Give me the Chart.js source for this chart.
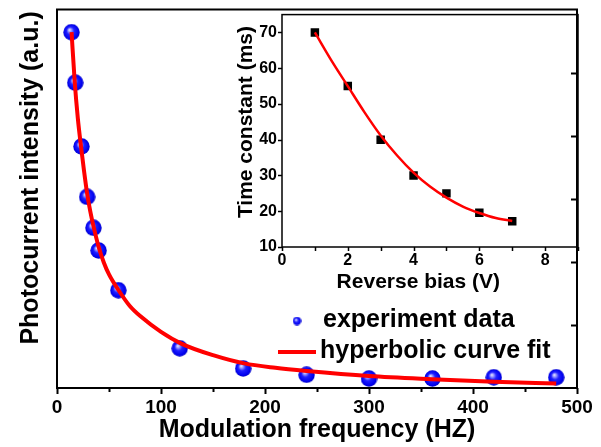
<!DOCTYPE html>
<html>
<head>
<meta charset="utf-8">
<script src="https://cdn.jsdelivr.net/npm/chart.js@4"></script>
<style>
  body { margin: 0; background: #fff; }
  #wrap { position: relative; width: 601px; height: 447px; }
  #mainChart { position: absolute; left: 0; top: 0; }
  #insetChart { position: absolute; left: 222px; top: 0; }
</style>
</head>
<body>
<div id="wrap">
  <canvas id="mainChart" width="601" height="447"></canvas>
  <canvas id="insetChart" width="370" height="300"></canvas>
</div>
<script>
// main plot: photocurrent vs modulation frequency
const freqHz = [14, 17.5, 23.5, 29, 35, 40, 59, 118, 179, 240, 300, 361, 420, 480];
const photocurrent = [5.64, 4.84, 3.83, 3.03, 2.54, 2.18, 1.55, 0.63, 0.31, 0.21, 0.15, 0.15, 0.17, 0.17];
const fitFreqHz = [14, 17, 20, 23, 26, 29, 32, 35, 40, 45, 50, 60, 70, 80, 100, 120, 150, 180, 210, 240, 300, 360, 420, 480];
const fitPhotocurrent = [5.64, 4.86, 4.28, 3.84, 3.44, 3.08, 2.80, 2.57, 2.24, 1.99, 1.80, 1.53, 1.30, 1.14, 0.89, 0.70, 0.52, 0.39, 0.32, 0.27, 0.19, 0.14, 0.10, 0.07];
const freqTicks = [0, 100, 200, 300, 400, 500];
const intensityTicks = [1, 2, 3, 4, 5];

// inset: time constant vs reverse bias
const biasV = [1, 2, 3, 4, 5, 6, 7];
const timeConstMs = [70, 55, 40, 30, 25, 19.6, 17.2];
const fitBiasV = [1, 1.5, 2, 2.5, 3, 3.5, 4, 4.5, 5, 5.5, 6, 6.5, 7];
const fitTimeConstMs = [70, 62.2, 55, 47.8, 41.2, 35.6, 30.8, 26.9, 23.8, 21.3, 19.5, 18.1, 17.3];
const biasTicks = [0, 2, 4, 6, 8];
const timeTicks = [10, 20, 30, 40, 50, 60, 70];

const FONT = 'Arial, "Liberation Sans", sans-serif';

function makeSphere(d) {
    const c = document.createElement('canvas');
    c.width = c.height = d;
    const g = c.getContext('2d');
    const r = d / 2;
    const grad = g.createRadialGradient(r - r * 0.25, r - r * 0.3, 0, r, r, r);
    grad.addColorStop(0, '#f4f4ff');
    grad.addColorStop(0.2, '#9a9aff');
    grad.addColorStop(0.45, '#2020ff');
    grad.addColorStop(0.85, '#0000ee');
    grad.addColorStop(1, '#0000b8');
    g.fillStyle = grad;
    g.beginPath();
    g.arc(r, r, r - 0.3, 0, Math.PI * 2);
    g.fill();
    return c;
}
const sphere = makeSphere(17);
const smallSphere = makeSphere(9);

// box around the plot area plus tick marks taken from the scales
const framePlugin = {
    id: 'frame',
    afterDraw(chart, args, opts) {
        const { ctx, chartArea: a, scales } = chart;
        ctx.save();
        ctx.strokeStyle = '#000';
        ctx.lineWidth = opts.lineWidth;
        ctx.strokeRect(a.left, a.top, a.right - a.left, a.bottom - a.top);
        (opts.ticks || []).forEach(t => {
            const s = scales[t.scale];
            t.values.forEach(v => {
                const p = Math.round(s.getPixelForValue(v)) + 0.5;
                ctx.beginPath();
                if (t.side === 'bottom') { ctx.moveTo(p, a.bottom); ctx.lineTo(p, a.bottom + t.len); }
                if (t.side === 'left') { ctx.moveTo(a.left, p); ctx.lineTo(a.left - t.len, p); }
                if (t.side === 'right') { ctx.moveTo(a.right, p); ctx.lineTo(a.right - t.len, p); }
                ctx.stroke();
            });
        });
        ctx.restore();
    }
};

const legendPlugin = {
    id: 'sideLegend',
    afterDraw(chart) {
        const ctx = chart.ctx;
        ctx.save();
        ctx.drawImage(smallSphere, 297 - 4.5, 321 - 4.5);
        ctx.strokeStyle = '#ff0000';
        ctx.lineWidth = 4;
        ctx.beginPath();
        ctx.moveTo(278, 352);
        ctx.lineTo(316, 352);
        ctx.stroke();
        ctx.fillStyle = '#000';
        ctx.font = 'bold 25px ' + FONT;
        ctx.textBaseline = 'middle';
        ctx.fillText('experiment data', 323, 320);
        ctx.fillText('hyperbolic curve fit', 320, 351);
        ctx.restore();
    }
};

const minorFreq = [];
for (let i = 0; i < freqTicks.length; i++) {
    minorFreq.push(freqTicks[i]);
    if (i < freqTicks.length - 1) minorFreq.push((freqTicks[i] + freqTicks[i + 1]) / 2);
}

new Chart(document.getElementById('mainChart'), {
    type: 'scatter',
    data: {
        datasets: [{
            label: 'hyperbolic curve fit',
            data: fitFreqHz.map((x, i) => ({ x: x, y: fitPhotocurrent[i] })),
            showLine: true,
            borderColor: '#ff0000',
            borderWidth: 4,
            pointRadius: 0,
            cubicInterpolationMode: 'monotone'
        }, {
            label: 'experiment data',
            data: freqHz.map((x, i) => ({ x: x, y: photocurrent[i] })),
            pointStyle: sphere,
            pointRadius: 8.5
        }]
    },
    options: {
        responsive: false,
        animation: false,
        layout: { padding: { top: 8, right: 24, left: 0, bottom: 0 } },
        plugins: {
            legend: { display: false },
            tooltip: { enabled: false },
            frame: {
                lineWidth: 2,
                ticks: [
                    { scale: 'x', side: 'bottom', values: freqTicks, len: 6 },
                    { scale: 'x', side: 'bottom', values: minorFreq.filter(v => !freqTicks.includes(v)), len: 4 },
                    { scale: 'y', side: 'right', values: intensityTicks, len: 6 }
                ]
            }
        },
        scales: {
            x: {
                type: 'linear',
                min: 0, max: 500,
                afterBuildTicks: s => { s.ticks = freqTicks.map(v => ({ value: v })); },
                afterFit: s => { s.height = 59; },
                grid: { display: false, drawTicks: false },
                border: { display: false },
                ticks: { color: '#000', padding: 8, font: { family: FONT, size: 19, weight: 'bold' }, maxRotation: 0 },
                title: { display: true, text: 'Modulation frequency (HZ)', color: '#000', padding: { top: 0, bottom: 2 }, font: { family: FONT, size: 25, weight: 'bold' } }
            },
            y: {
                min: 0, max: 6,
                afterFit: s => { s.width = 57; },
                grid: { display: false, drawTicks: false },
                border: { display: false },
                ticks: { display: false },
                title: { display: true, text: '      Photocurrent intensity (a.u.)', color: '#000', padding: { top: 16, bottom: 0 }, font: { family: FONT, size: 25, weight: 'bold' } }
            }
        }
    },
    plugins: [framePlugin, legendPlugin]
});

const biasMinor = [0, 1, 2, 3, 4, 5, 6, 7, 8, 9];

new Chart(document.getElementById('insetChart'), {
    type: 'scatter',
    data: {
        datasets: [{
            label: 'fit',
            data: fitBiasV.map((x, i) => ({ x: x, y: fitTimeConstMs[i] })),
            showLine: true,
            borderColor: '#ff0000',
            borderWidth: 2.5,
            pointRadius: 0,
            cubicInterpolationMode: 'monotone'
        }, {
            label: 'time constant',
            data: biasV.map((x, i) => ({ x: x, y: timeConstMs[i] })),
            pointStyle: 'rect',
            pointRadius: 6,
            backgroundColor: '#000',
            borderColor: '#000',
            borderWidth: 0
        }]
    },
    options: {
        responsive: false,
        animation: false,
        layout: { padding: { top: 8, right: 14, left: 0, bottom: 0 } },
        plugins: {
            legend: { display: false },
            tooltip: { enabled: false },
            frame: {
                lineWidth: 1.5,
                ticks: [
                    { scale: 'x', side: 'bottom', values: biasMinor, len: 4 },
                    { scale: 'y', side: 'left', values: timeTicks, len: 4 }
                ]
            }
        },
        scales: {
            x: {
                type: 'linear',
                min: 0, max: 9,
                afterBuildTicks: s => { s.ticks = biasTicks.map(v => ({ value: v })); },
                afterFit: s => { s.height = 53; },
                grid: { display: false, drawTicks: false },
                border: { display: false },
                ticks: { color: '#000', padding: 4, font: { family: FONT, size: 16, weight: 'bold' }, maxRotation: 0 },
                title: { display: true, text: 'Reverse bias (V)    ', color: '#000', padding: { top: 0, bottom: 5 }, font: { family: FONT, size: 21, weight: 'bold' } }
            },
            y: {
                min: 10, max: 75,
                afterBuildTicks: s => { s.ticks = timeTicks.map(v => ({ value: v })); },
                afterFit: s => { s.width = 60; },
                grid: { display: false, drawTicks: false },
                border: { display: false },
                ticks: { color: '#000', padding: 5, font: { family: FONT, size: 16, weight: 'bold' } },
                title: { display: true, text: '   Time constant (ms)', color: '#000', padding: { top: 12, bottom: 0 }, font: { family: FONT, size: 21, weight: 'bold' } }
            }
        }
    },
    plugins: [framePlugin]
});
</script>
</body>
</html>
